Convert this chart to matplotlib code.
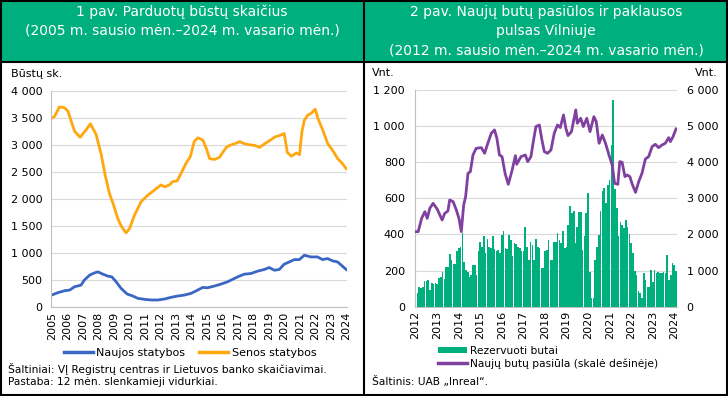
import numpy as np
import matplotlib
matplotlib.use('Agg')
import matplotlib.pyplot as plt
from matplotlib.patches import Rectangle, Patch
from matplotlib.lines import Line2D

# 1 pav. - senos statybos (decimal year, units)
old_years = [2005.0, 2005.2, 2005.5, 2005.8, 2006.05, 2006.25, 2006.48, 2006.84, 2007.23, 2007.5,
             2007.87, 2008.2, 2008.45, 2008.73, 2009.0, 2009.27, 2009.53, 2009.8, 2010.02, 2010.34,
             2010.77, 2011.2, 2011.63, 2012.06, 2012.28, 2012.6, 2012.8, 2013.1, 2013.35, 2013.67,
             2013.95, 2014.2, 2014.44, 2014.76, 2014.98, 2015.19, 2015.5, 2015.83, 2016.05, 2016.27,
             2016.48, 2016.8, 2017.13, 2017.45, 2017.77, 2018.1, 2018.42, 2018.74, 2019.07, 2019.4,
             2019.72, 2020.0, 2020.2, 2020.46, 2020.78, 2020.99, 2021.14, 2021.3, 2021.52, 2021.74,
             2022.0, 2022.17, 2022.49, 2022.81, 2023.13, 2023.45, 2023.77, 2024.0]
old_sales = [3490, 3530, 3700, 3690, 3625, 3450, 3250, 3140, 3280, 3390,
             3190, 2820, 2445, 2100, 1885, 1635, 1480, 1375, 1450, 1700,
             1950, 2070, 2165, 2260, 2225, 2260, 2320, 2335, 2475, 2660,
             2785, 3065, 3130, 3085, 2930, 2745, 2730, 2770, 2865, 2955,
             2990, 3020, 3060, 3020, 3000, 2990, 2955, 3020, 3080, 3145,
             3175, 3210, 2860, 2790, 2850, 2820, 3240, 3455, 3550, 3580,
             3660, 3490, 3270, 3020, 2895, 2745, 2650, 2560]

# 1 pav. - naujos statybos
new_years = [2005.0, 2005.4, 2005.84, 2006.16, 2006.48, 2006.9, 2007.1, 2007.45, 2007.77, 2007.98,
             2008.3, 2008.63, 2008.88, 2009.16, 2009.48, 2009.87, 2010.24, 2010.56, 2010.99, 2011.42,
             2011.85, 2012.28, 2012.7, 2013.13, 2013.56, 2013.99, 2014.42, 2014.74, 2015.06, 2015.49,
             2015.92, 2016.35, 2016.78, 2017.1, 2017.43, 2017.85, 2018.28, 2018.71, 2019.03, 2019.36,
             2019.68, 2020.0, 2020.33, 2020.65, 2020.97, 2021.3, 2021.72, 2022.15, 2022.47, 2022.8,
             2023.12, 2023.44, 2023.76, 2024.0]
new_sales = [226, 270, 306, 318, 380, 410, 500, 594, 636, 655,
             612, 575, 563, 471, 349, 245, 208, 165, 147, 135,
             135, 153, 184, 208, 226, 257, 318, 367, 361, 392,
             428, 471, 532, 575, 612, 624, 667, 698, 734, 685,
             698, 796, 838, 881, 881, 961, 930, 930, 881, 900,
             857, 838, 759, 698]

# 2 pav. - rezervuoti butai, monthly 2012-01 .. 2024-02
reserved = [96, 74, 107, 102, 107, 144, 144, 148, 93, 133, 126, 133,
            126, 157, 167, 194, 152, 222, 219, 293, 256, 237, 237, 306,
            324, 333, 407, 250, 204, 194, 167, 176, 231, 231, 176, 306,
            361, 333, 393, 296, 374, 333, 324, 389, 319, 306, 315, 300,
            398, 417, 324, 319, 398, 370, 278, 352, 348, 333, 324, 311,
            306, 441, 333, 259, 361, 343, 259, 374, 333, 324, 213, 213,
            306, 315, 370, 259, 256, 356, 361, 407, 370, 352, 417, 324,
            333, 454, 559, 519, 528, 352, 444, 522, 522, 315, 389, 519,
            630, 194, 46, 46, 260, 333, 398, 530, 640, 656, 573, 674,
            702, 896, 1145, 650, 545, 390, 470, 455, 435, 478, 444, 400,
            350, 295, 200, 175, 85, 78, 46, 185, 148, 111, 107, 204,
            139, 204, 189, 194, 189, 189, 190, 185, 287, 148, 176, 244,
            231, 200]

# 2 pav. - naujų butų pasiūla (right scale)
supply_years = [2012.0, 2012.12, 2012.28, 2012.43, 2012.54, 2012.66, 2012.81, 2013.0, 2013.09, 2013.23,
                2013.35, 2013.5, 2013.58, 2013.74, 2013.89, 2014.01, 2014.12, 2014.23, 2014.32, 2014.43,
                2014.54, 2014.66, 2014.81, 2015.05, 2015.2, 2015.35, 2015.51, 2015.66, 2015.77, 2015.89,
                2016.01, 2016.15, 2016.3, 2016.46, 2016.63, 2016.69, 2016.89, 2017.09, 2017.2, 2017.35,
                2017.46, 2017.58, 2017.74, 2017.86, 2017.97, 2018.12, 2018.28, 2018.43, 2018.58, 2018.71,
                2018.86, 2018.97, 2019.07, 2019.23, 2019.43, 2019.5, 2019.66, 2019.78, 2019.94, 2020.09,
                2020.27, 2020.38, 2020.51, 2020.66, 2020.81, 2020.97, 2021.12, 2021.23, 2021.38, 2021.47,
                2021.58, 2021.71, 2021.81, 2021.94, 2022.05, 2022.2, 2022.35, 2022.5, 2022.66, 2022.81,
                2022.97, 2023.12, 2023.27, 2023.43, 2023.58, 2023.74, 2023.82, 2023.94, 2024.08]
supply = [2078, 2078, 2447, 2632, 2447, 2724, 2862, 2705, 2585, 2400,
          2585, 2650, 2955, 2909, 2678, 2447, 2078, 2816, 3047, 3693,
          3740, 4201, 4386, 4404, 4247, 4524, 4801, 4894, 4663, 4201,
          4155, 3693, 3389, 3740, 4183, 3943, 4155, 4201, 4017, 4155,
          4571, 4986, 5032, 4617, 4294, 4247, 4340, 4801, 5032, 4958,
          5309, 4940, 4737, 4848, 5448, 5078, 5217, 4986, 5217, 4848,
          5263, 5124, 4524, 4755, 4524, 4201, 3924, 3416, 3389, 4017,
          3998, 3601, 3647, 3601, 3389, 3167, 3463, 3693, 4090, 4155,
          4432, 4497, 4404, 4478, 4524, 4681, 4571, 4709, 4921]

years_left = list(range(2005, 2025))
years_right = list(range(2012, 2025))

GREEN = '#00AF7E'
W, H = 728, 396


def fx(px):
    return px / W


def fy(py):
    return 1 - py / H


fig = plt.figure(figsize=(7.28, 3.96), dpi=100)
fig.patch.set_facecolor('white')

# banners
for x0, x1 in [(0, 363), (364, 728)]:
    fig.add_artist(Rectangle((fx(x0), fy(61)), fx(x1 - x0), 61 / H,
                             transform=fig.transFigure, facecolor=GREEN, edgecolor='none'))
fig.add_artist(Line2D([0, 1], [fy(61.5), fy(61.5)], transform=fig.transFigure, color='black', lw=1.5))
fig.add_artist(Line2D([fx(363.5), fx(363.5)], [0, 1], transform=fig.transFigure, color='black', lw=1.5))
fig.add_artist(Rectangle((0.001, 0.002), 0.998, 0.996, transform=fig.transFigure,
                         facecolor='none', edgecolor='black', lw=1.5))

tkw = dict(color='white', fontsize=10, ha='center', va='center')
fig.text(fx(182), fy(12), '1 pav. Parduotų būstų skaičius', **tkw)
fig.text(fx(182), fy(31), '(2005 m. sausio mėn.–2024 m. vasario mėn.)', **tkw)
fig.text(fx(546), fy(12), '2 pav. Naujų butų pasiūlos ir paklausos', **tkw)
fig.text(fx(546), fy(31), 'pulsas Vilniuje', **tkw)
fig.text(fx(546), fy(51), '(2012 m. sausio mėn.–2024 m. vasario mėn.)', **tkw)


def fmt(v):
    return f'{int(v):,}'.replace(',', ' ')


def style(ax):
    ax.grid(axis='y', color='#D9D9D9', lw=0.8)
    ax.set_axisbelow(True)
    for s in ['top', 'right']:
        ax.spines[s].set_visible(False)
    ax.spines['left'].set_color('#BFBFBF')
    ax.spines['bottom'].set_color('#BFBFBF')
    ax.tick_params(length=0, labelsize=8, pad=3)


# left chart
ax1 = fig.add_axes([fx(50.7), fy(307.3), fx(296), 216.6 / H])
ax1.plot(new_years, new_sales, color='#3A66C4', lw=2)
ax1.plot(old_years, old_sales, color='#FFA70F', lw=2)
ax1.set_ylim(0, 4000)
ax1.set_yticks(np.arange(0, 4001, 500))
ax1.set_yticklabels([fmt(v) for v in np.arange(0, 4001, 500)])
ax1.set_xlim(2004.94, 2024.03)
ax1.set_xticks(years_left)
ax1.set_xticklabels([str(y) for y in years_left], rotation=90)
style(ax1)
ax1.tick_params(axis='y', pad=6)
fig.text(fx(11), fy(74), 'Būstų sk.', fontsize=8, va='center')

ax1.legend(handles=[Line2D([], [], color='#3A66C4', lw=2.5), Line2D([], [], color='#FFA70F', lw=2.5)],
           labels=['Naujos statybos', 'Senos statybos'], ncol=2, frameon=False, fontsize=8,
           loc='center', bbox_to_anchor=(fx(190), fy(352.5)), bbox_transform=fig.transFigure,
           handlelength=2.6, handletextpad=0.3, columnspacing=1.3, borderpad=0)
fig.text(fx(8), fy(369), 'Šaltiniai: VĮ Registrų centras ir Lietuvos banko skaičiavimai.', fontsize=7.7, va='center')
fig.text(fx(8), fy(382), 'Pastaba: 12 mėn. slenkamieji vidurkiai.', fontsize=7.7, va='center')

# right chart
ax2 = fig.add_axes([fx(414.7), fy(306.7), fx(262.3), 216.7 / H])
months = np.arange(len(reserved))
ax2.bar(months, reserved, width=0.9, color=GREEN, edgecolor='none')
ax2.set_ylim(0, 1200)
ax2.set_yticks(np.arange(0, 1201, 200))
ax2.set_yticklabels([fmt(v) for v in np.arange(0, 1201, 200)])
ax2.set_xlim(-0.5, len(reserved) - 0.5)
ax2.set_xticks([(y - 2012) * 12 for y in years_right])
ax2.set_xticklabels([str(y) for y in years_right], rotation=90)
style(ax2)
ax2.tick_params(axis='y', pad=7)

ax3 = ax2.twinx()
ax3.plot([(y - 2012) * 12 for y in supply_years], supply, color='#8040A0', lw=2)
ax3.set_ylim(0, 6000)
ax3.set_yticks(np.arange(0, 6001, 1000))
ax3.set_yticklabels([fmt(v) for v in np.arange(0, 6001, 1000)])
for s in ax3.spines.values():
    s.set_visible(False)
ax3.tick_params(length=0, labelsize=8, pad=7)

fig.text(fx(372), fy(73), 'Vnt.', fontsize=8, va='center')
fig.text(fx(718), fy(73), 'Vnt.', fontsize=8, va='center', ha='right')

ax2.legend(handles=[Patch(facecolor=GREEN, edgecolor='none'), Line2D([], [], color='#8040A0', lw=2.5)],
           labels=['Rezervuoti butai', 'Naujų butų pasiūla (skalė dešinėje)'], frameon=False, fontsize=7.7,
           loc='upper left', bbox_to_anchor=(fx(438), fy(346)), bbox_transform=fig.transFigure,
           handlelength=2.7, handleheight=0.55, handletextpad=0.3, labelspacing=0.2,
           borderpad=0, borderaxespad=0)
fig.text(fx(372), fy(382), 'Šaltinis: UAB „Inreal“.', fontsize=7.7, va='center')

fig.savefig('out.png', dpi=100)
